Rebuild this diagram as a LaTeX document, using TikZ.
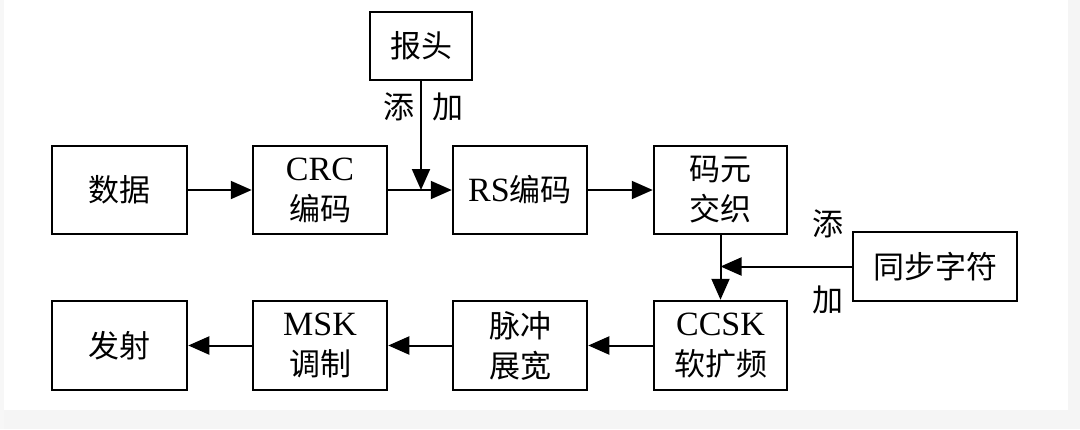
\documentclass[tikz,border=0pt]{standalone}
\usepackage{fontspec}
\setmainfont{Liberation Serif}
\newfontfamily\cjk{Noto Sans CJK SC}
\newcommand\zh{\cjk\fontsize{31}{40}\selectfont}
\usetikzlibrary{arrows.meta}
\tikzset{
  blk/.style={draw, line width=2.5pt, rectangle, inner sep=0pt, align=center,
    font=\fontsize{34}{40}\selectfont},
  conn/.style={line width=2pt, -{Triangle[length=21pt,width=18pt]}},
  lbl/.style={font=\zh, inner sep=0pt}
}
\begin{document}
\begin{tikzpicture}[x=1pt,y=-1pt]
\useasboundingbox (0,0) rectangle (1080,429);
\fill[black!4] (0,410) rectangle (1080,429);
\fill[black!4] (1068,0) rectangle (1080,429);
\fill[black!3] (0,0) rectangle (4,429);
% top row
\node[blk, minimum width=135pt, minimum height=88pt] (data) at (119.5,190) {\zh 数据};
\node[blk, minimum width=134pt, minimum height=88pt] (crc) at (320,190) {CRC\\\zh 编码};
\node[blk, minimum width=134pt, minimum height=88pt] (rs) at (520,190) {RS{\zh 编码}};
\node[blk, minimum width=133pt, minimum height=88pt] (inter) at (720.5,190) {\zh 码元\\\zh 交织};
\node[blk, minimum width=102pt, minimum height=68pt] (head) at (421,46) {\zh 报头};
\node[blk, minimum width=164pt, minimum height=69pt] (sync) at (935,266.5) {\zh 同步字符};
% bottom row
\node[blk, minimum width=135pt, minimum height=89pt] (fire) at (119.5,345.5) {\zh 发射};
\node[blk, minimum width=134pt, minimum height=89pt] (msk) at (320,345.5) {MSK\\\zh 调制};
\node[blk, minimum width=134pt, minimum height=89pt] (pulse) at (520,345.5) {\zh 脉冲\\\zh 展宽};
\node[blk, minimum width=133pt, minimum height=89pt] (ccsk) at (720.5,345.5) {CCSK\\\zh 软扩频};
% junction points
\coordinate (j1) at (421,190);
\coordinate (j2) at (720.5,266.5);
% connectors
\draw[conn] (data.east) -- (crc.west);
\draw[conn] (crc.east) -- (rs.west);
\draw[conn] (rs.east) -- (inter.west);
\draw[conn] (head.south) -- (j1);
\draw[conn] (inter.south) -- (ccsk.north);
\draw[conn] (sync.west) -- (j2);
\draw[conn] (ccsk.west) -- (pulse.east);
\draw[conn] (pulse.west) -- (msk.east);
\draw[conn] (msk.west) -- (fire.east);
% labels
\node[lbl] (t1) at (399,107) {添};
\node[lbl] (a1) at (448,107) {加};
\node[lbl] (t2) at (828,224) {添};
\node[lbl] (a2) at (828,300) {加};
\end{tikzpicture}
\end{document}
